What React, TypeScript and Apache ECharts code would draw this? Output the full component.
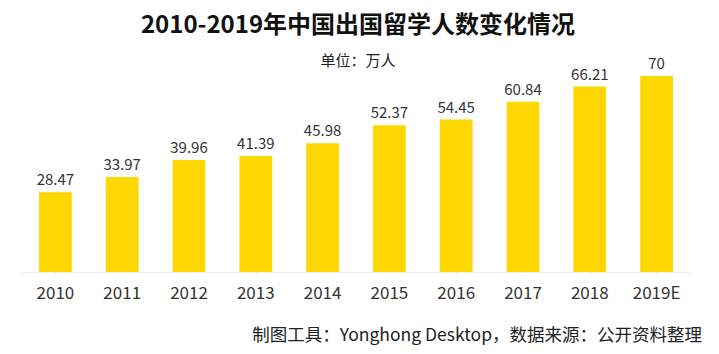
import React, { useEffect, useRef } from "react";
import * as echarts from "echarts";

const categories = ["2010", "2011", "2012", "2013", "2014", "2015", "2016", "2017", "2018", "2019E"];
const values = [28.47, 33.97, 39.96, 41.39, 45.98, 52.37, 54.45, 60.84, 66.21, 70];
const titleText = "2010-2019年中国出国留学人数变化情况";
const subtitleText = "单位：万人";
const footerText = "制图工具：Yonghong Desktop，数据来源：公开资料整理";

const FONT = "'Noto Sans CJK SC', 'Open Sans', sans-serif";

export default function App() {
  const ref = useRef<HTMLDivElement>(null);
  useEffect(() => {
    if (!ref.current) return;
    document.body.style.margin = "0";
    const chart = echarts.init(ref.current, null, { renderer: "svg" });
    chart.setOption({
      animation: false,
      backgroundColor: "#ffffff",
      textStyle: { fontFamily: FONT },
      title: [
        {
          text: titleText,
          left: 353,
          textAlign: "center",
          top: 5,
          textStyle: { fontSize: 24, fontWeight: "bold", color: "#111", fontFamily: FONT },
        },
        {
          text: subtitleText,
          left: 353,
          textAlign: "center",
          top: 47,
          textStyle: { fontSize: 15, fontWeight: "normal", color: "#222", fontFamily: FONT },
        },
        {
          text: footerText,
          right: 12,
          top: 320,
          textStyle: { fontSize: 17.5, fontWeight: "normal", color: "#222", fontFamily: FONT },
        },
      ],
      grid: { left: 22, right: 29, top: 76, bottom: 82, containLabel: false },
      xAxis: {
        type: "category",
        data: categories,
        axisLine: { lineStyle: { color: "#eeeeee", width: 1 } },
        axisTick: { show: true, alignWithLabel: true, length: 3, lineStyle: { color: "#e6e6e6" } },
        axisLabel: { fontSize: 17, color: "#333", margin: 11, fontFamily: FONT },
      },
      yAxis: {
        type: "value",
        min: 0,
        max: 70,
        show: false,
        splitLine: { show: false },
      },
      series: [
        {
          type: "bar",
          data: values,
          barWidth: "49%",
          itemStyle: { color: "#FFD700" },
          label: {
            show: true,
            position: "top",
            distance: 6,
            fontSize: 15,
            color: "#333",
            fontFamily: FONT,
          },
        },
      ],
    });
    return () => chart.dispose();
  }, []);
  return <div ref={ref} style={{ width: 719, height: 354 }} />;
}
